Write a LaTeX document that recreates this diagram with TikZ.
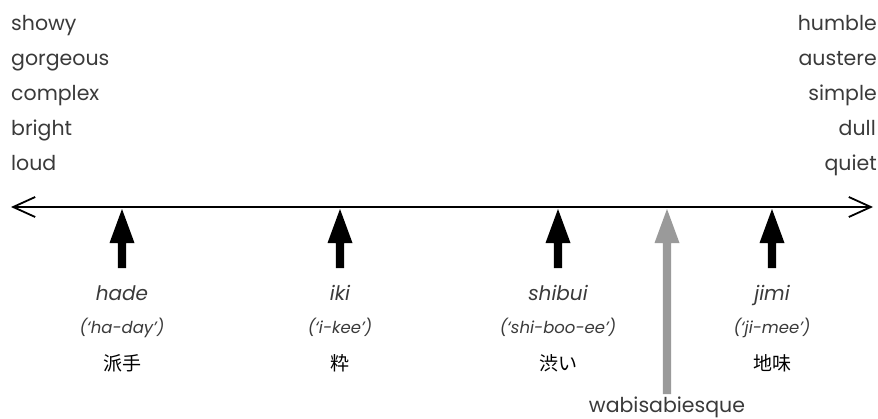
\documentclass[tikz,border=0pt]{standalone}
\usepackage{fontspec}
\setmainfont{Poppins}
\newfontfamily\cjk{Noto Sans CJK JP}
\usetikzlibrary{arrows.meta}
\definecolor{txt}{HTML}{3A3A3A}
\definecolor{wabi}{HTML}{9A9A9A}
\begin{document}
\begin{tikzpicture}[x=1pt,y=-1pt,
  word/.style={text=txt,font=\fontsize{20.5}{22}\selectfont,inner sep=0pt,anchor=base},
  lword/.style={word,anchor=base west},
  rword/.style={word,anchor=base east},
  term/.style={text=txt,font=\fontsize{20}{22}\selectfont\itshape,inner sep=0pt,anchor=base},
  pron/.style={text=txt,font=\fontsize{16.5}{18}\selectfont\itshape,inner sep=0pt,anchor=base},
  kanji/.style={text=black,font=\fontsize{19}{20}\selectfont\cjk,inner sep=0pt},
  axis/.style={line width=2.6pt,{Straight Barb[length=22pt,width=20pt,line width=1.8pt]}-{Straight Barb[length=22pt,width=20pt,line width=1.8pt]}}]
\useasboundingbox (0,0) rectangle (878,418);
% left column
\node[lword] (l1) at (11,30) {showy};
\node[lword] (l2) at (11,65) {gorgeous};
\node[lword] (l3) at (11,100) {complex};
\node[lword] (l4) at (11,135) {bright};
\node[lword] (l5) at (11,170) {loud};
% right column
\node[rword] (r1) at (877,30) {humble};
\node[rword] (r2) at (877,65) {austere};
\node[rword] (r3) at (877,100) {simple};
\node[rword] (r4) at (876,135) {dull};
\node[rword] (r5) at (877,170) {quiet};
% axis
\coordinate (aL) at (11,207);
\coordinate (aR) at (873,207);
\draw[axis] (aL) -- (aR);
% markers
\foreach \x/\n in {122/a,340/b,558/c,772/d}{
  \coordinate (t\n) at (\x,209);
  \fill[black] (t\n) -- ++(12.5,34) -- ++(-8.3,0) -- ++(0,25) -- ++(-8.4,0) -- ++(0,-25) -- ++(-8.3,0) -- cycle;
}
\coordinate (tw) at (667,209);
\fill[wabi] (tw) -- ++(12.5,34) -- ++(-8.3,0) -- ++(0,151) -- ++(-8.4,0) -- ++(0,-151) -- ++(-8.3,0) -- cycle;
% labels
\node[term] (ha) at (122,300) {hade};
\node[pron] (hap) at (122,333) {(‘ha-day’)};
\node[kanji] (hak) at (122,363) {派手};
\node[term] (ik) at (340,300) {iki};
\node[pron] (ikp) at (340,333) {(‘i-kee’)};
\node[kanji] (ikk) at (340,363) {粋};
\node[term] (sh) at (558,300) {shibui};
\node[pron] (shp) at (558,333) {(‘shi-boo-ee’)};
\node[kanji] (shk) at (558,363) {渋い};
\node[term] (ji) at (772,300) {jimi};
\node[pron] (jip) at (772,333) {(‘ji-mee’)};
\node[kanji] (jik) at (772,363) {地味};
\node[word] (wb) at (667,412) {wabisabiesque};
\end{tikzpicture}
\end{document}
